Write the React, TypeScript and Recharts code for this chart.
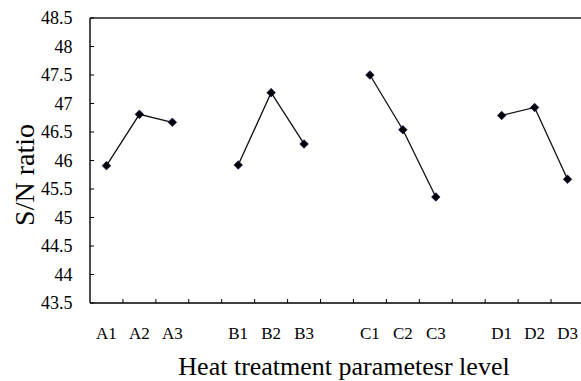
import React from 'react';
import { LineChart, Line, XAxis, YAxis, ReferenceLine, Label } from 'recharts';

// ---- data ----
const CATEGORIES = ['A1', 'A2', 'A3', '', 'B1', 'B2', 'B3', '', 'C1', 'C2', 'C3', '', 'D1', 'D2', 'D3'];
const SN_VALUES: (number | null)[] = [45.91, 46.81, 46.67, null, 45.92, 47.19, 46.29, null, 47.5, 46.54, 45.36, null, 46.79, 46.93, 45.67];
const Y_TICKS = [43.5, 44, 44.5, 45, 45.5, 46, 46.5, 47, 47.5, 48, 48.5];
const Y_LABEL = 'S/N ratio';
const X_LABEL = 'Heat treatment parametesr level';

const data = CATEGORIES.map((c, i) => ({ key: c || `gap${i}`, label: c, sn: SN_VALUES[i] }));

// ---- layout ----
const CHART_W = 600;
const CHART_H = 381;
const Y_AXIS_W = 90;
const MARGIN = { top: 18, right: 16, bottom: 0, left: 0 };
const SLOT = (CHART_W - MARGIN.right - MARGIN.left - Y_AXIS_W) / CATEGORIES.length;
const FONT = '"Liberation Serif", "Times New Roman", serif';

const XTick = (props: any) => {
  const { x, y, payload, index } = props;
  const v: string = String(payload.value);
  const label = v.startsWith('gap') ? '' : v;
  return (
    <g>
      {index < CATEGORIES.length - 1 && (
        <line x1={x + SLOT / 2} x2={x + SLOT / 2} y1={y} y2={y - 4} stroke="#000" strokeWidth={1} />
      )}
      <text x={x} y={y + 36} textAnchor="middle" fontSize={17} fill="#000" style={{ fontFamily: FONT }}>
        {label}
      </text>
    </g>
  );
};

const YTick = (props: any) => {
  const { x, y, payload } = props;
  return (
    <g>
      <line x1={x} x2={x + 4} y1={y} y2={y} stroke="#000" strokeWidth={1} />
      <text x={x - 17.5} y={y} dy="0.355em" textAnchor="end" fontSize={18} fill="#000" style={{ fontFamily: FONT }}>
        {String(payload.value)}
      </text>
    </g>
  );
};

const Diamond = (props: any) => {
  const { cx, cy, index } = props;
  if (cx == null || cy == null || props.value == null) return <g key={`d${index}`} />;
  const r = 4.3;
  return (
    <path
      key={`d${index}`}
      d={`M${cx},${cy - r}L${cx + r},${cy}L${cx},${cy + r}L${cx - r},${cy}Z`}
      fill="#000"
      stroke="#000050"
      strokeWidth={0.6}
    />
  );
};

const XTitle = () => (
  <text x={344} y={375} textAnchor="middle" fontSize={26} fill="#000" style={{ fontFamily: FONT }}>
    {X_LABEL}
  </text>
);

const YTitle = () => (
  <text transform="translate(34,175) rotate(-90)" x={0} y={0} textAnchor="middle" fontSize={28} fill="#000" style={{ fontFamily: FONT }}>
    {Y_LABEL}
  </text>
);

export default function App() {
  return (
    <div style={{ position: 'fixed', left: 0, top: 0, width: 581, height: 381, overflow: 'hidden', background: '#fff' }}>
      <LineChart width={CHART_W} height={CHART_H} data={data} margin={MARGIN}>
        <XAxis
          dataKey="key"
          type="category"
          interval={0}
          padding={{ left: SLOT / 2, right: SLOT / 2 }}
          tickLine={false}
          tickSize={0}
          tickMargin={0}
          height={78}
          tick={<XTick />}
          axisLine={{ stroke: '#000', strokeWidth: 1.4 }}
        >
          <Label content={<XTitle />} />
        </XAxis>
        <YAxis
          type="number"
          domain={[43.5, 48.5]}
          ticks={Y_TICKS}
          interval={0}
          width={Y_AXIS_W}
          tickLine={false}
          tickSize={0}
          tickMargin={0}
          tick={<YTick />}
          axisLine={{ stroke: '#000', strokeWidth: 1.4 }}
        >
          <Label content={<YTitle />} />
        </YAxis>
        <ReferenceLine y={48.5} stroke="#222" strokeWidth={1.4} />
        <Line
          type="linear"
          dataKey="sn"
          stroke="#111"
          strokeWidth={1.3}
          dot={Diamond}
          activeDot={false}
          isAnimationActive={false}
        />
      </LineChart>
    </div>
  );
}
